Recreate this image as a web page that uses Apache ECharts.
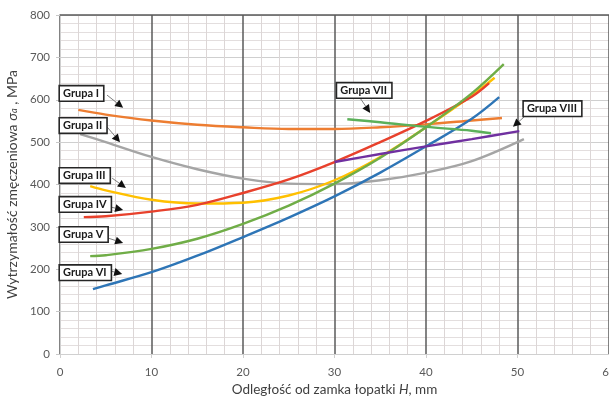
<!DOCTYPE html>
<html><head><meta charset="utf-8">
<script src="https://cdn.jsdelivr.net/npm/echarts@6/dist/echarts.min.js"></script>
<style>html,body{margin:0;padding:0;background:#fff}#c{width:609px;height:398px}</style>
</head><body><div id="c"></div>
<script>
// x: distance from blade root H [mm], y: fatigue strength [MPa]
const grupaI    = [[2,576],[5,565],[10,551],[15,541],[20,535],[25,531],[30,531],[35,535],[40,542],[45,551],[48.3,557]];
const grupaII   = [[2.2,519],[5,500],[10,465],[15,436],[20,414],[25,402],[30,401],[35,410],[40,428],[45,455],[50.7,507]];
const grupaIII  = [[3.3,396],[5,386],[10,364],[15,355],[20,357],[25,374],[30,410],[35,465],[40,535],[45,610],[47.5,652]];
const grupaIV   = [[2.6,323],[5,325],[10,336],[15,352],[20,380],[25,412],[30,453],[35,500],[40,550],[45,607],[46.9,639]];
const grupaV    = [[3.3,231],[5,233],[10,248],[15,272],[20,307],[25,350],[30,402],[35,463],[40,535],[45,615],[48.5,684]];
const grupaVI   = [[3.6,153],[5,162],[10,193],[15,232],[20,276],[25,322],[30,372],[35,428],[40,490],[45,555],[48,606]];
const grupaVII  = [[31.4,554],[35,547],[40,536],[45,527],[47.1,521]];
const grupaVIII = [[30,453],[35,472],[40,490],[45,507],[50.2,526]];

const seriesNames = ['Grupa I','Grupa II','Grupa III','Grupa IV','Grupa V','Grupa VI','Grupa VII','Grupa VIII'];
const seriesData = [grupaI,grupaII,grupaIII,grupaIV,grupaV,grupaVI,grupaVII,grupaVIII];
const colors = ['#ED7D31','#A5A5A5','#FFC000','#E8412C','#70AD47','#2E75B6','#5BB05A','#7030A0'];

// annotation boxes: [label anchor (left-middle), arrow tail, arrow tip] in data coords
const annotLabels = ['Grupa I','Grupa II','Grupa III','Grupa IV','Grupa V','Grupa VI','Grupa VII','Grupa VIII'];
const annotBox  = [[0,615],[0,539],[0,421],[0,353],[0,282],[0,192],[30.3,622],[50.7,579]];
const annotTail = [[5.14,611],[5.14,536],[5.7,415],[5.5,347],[4.9,276],[5.1,198],[32.8,604],[50.7,559]];
const annotTip  = [[6.9,581],[6.56,500],[7.2,392],[6.9,340],[6.9,262],[6.8,189],[33.9,569],[49.5,536]];

const xTicks = [0,10,20,30,40,50,60];
const yTicks = [0,100,200,300,400,500,600,700,800];

const chart = echarts.init(document.getElementById('c'));
const FONT = 'Lato';
const option = {
  animation:false,
  backgroundColor:'#fff',
  grid:{left:60, top:15, width:549, height:339, containLabel:false, outerBoundsMode:'none'},
  xAxis:[{
    type:'value', min:xTicks[0], max:xTicks[xTicks.length-1], interval:10,
    name:'Odległość od zamka łopatki {i|H}, mm', nameLocation:'middle', nameGap:28,
    nameTextStyle:{fontFamily:FONT, fontSize:13.5, color:'#404040',
      rich:{i:{fontFamily:FONT, fontSize:13.5, fontStyle:'italic', color:'#404040'}}},
    axisLine:{show:true, lineStyle:{color:'#d0d0d0', width:1}},
    axisTick:{show:true, length:4, lineStyle:{color:'#d0d0d0'}},
    axisLabel:{fontFamily:FONT, fontSize:11.5, color:'#595959', margin:12},
    splitLine:{show:true, lineStyle:{color:'#5a5a5a', width:1.5}},
    minorTick:{show:false, splitNumber:5},
    minorSplitLine:{show:true, lineStyle:{color:'#dcd6d6', width:1}}
  },{
    type:'value', position:'top', min:0, max:60,
    axisLine:{show:true, lineStyle:{color:'#5a5a5a', width:1.5}},
    axisTick:{show:false}, axisLabel:{show:false}, splitLine:{show:false}
  }],
  yAxis:{
    type:'value', min:yTicks[0], max:yTicks[yTicks.length-1], interval:100,
    name:'Wytrzymałość zmęczeniowa {i|σ}{s|a} , MPa', nameLocation:'middle', nameGap:38,
    nameTextStyle:{fontFamily:FONT, fontSize:14, color:'#404040',
      rich:{i:{fontFamily:FONT, fontSize:14, fontStyle:'italic', color:'#404040'},
            s:{fontFamily:FONT, fontSize:9, fontStyle:'italic', color:'#404040', verticalAlign:'bottom', padding:[5,0,0,0]}}},
    axisLine:{show:true, lineStyle:{color:'#d0d0d0', width:1}},
    axisTick:{show:true, length:4, lineStyle:{color:'#c8c8c8'}},
    axisLabel:{fontFamily:FONT, fontSize:11.5, color:'#595959', margin:10},
    splitLine:{show:true, lineStyle:{color:'#cfcfcf', width:1}},
    minorTick:{show:false, splitNumber:5},
    minorSplitLine:{show:true, lineStyle:{color:'#e3dede', width:1}}
  },
  series: seriesData.map((d,i)=>({
    name:seriesNames[i], type:'line', data:d, smooth:0.35, showSymbol:false, symbol:'none',
    lineStyle:{color:colors[i], width:2.4}, z:3+i
  }))
};
chart.setOption(option);

function drawAnnotations(){
  const g = [];
  for(let i=0;i<annotLabels.length;i++){
    const b = chart.convertToPixel({xAxisIndex:0,yAxisIndex:0}, annotBox[i]);
    const t = chart.convertToPixel({xAxisIndex:0,yAxisIndex:0}, annotTail[i]);
    const p = chart.convertToPixel({xAxisIndex:0,yAxisIndex:0}, annotTip[i]);
    const ang = Math.atan2(p[1]-t[1], p[0]-t[0]);
    const L = 8, W = 4;
    const bx = p[0]-L*Math.cos(ang), by = p[1]-L*Math.sin(ang);
    const nx = -Math.sin(ang)*W, ny = Math.cos(ang)*W;
    g.push({type:'line', z:50, shape:{x1:t[0],y1:t[1],x2:bx,y2:by}, style:{stroke:'#7f7f7f', lineWidth:1}});
    g.push({type:'polygon', z:50, shape:{points:[[p[0],p[1]],[bx+nx,by+ny],[bx-nx,by-ny]]}, style:{fill:'#111'}});
    g.push({type:'text', z:60, x:b[0], y:b[1], style:{
      text:annotLabels[i], font:'bold 11px Lato', fill:'#1a1a1a', align:'left', verticalAlign:'middle',
      backgroundColor:'#fff', borderColor:'#262626', borderWidth:1.6, padding:[2,4,1,3]
    }});
  }
  chart.setOption({graphic:g});
}
drawAnnotations();
</script></body></html>
